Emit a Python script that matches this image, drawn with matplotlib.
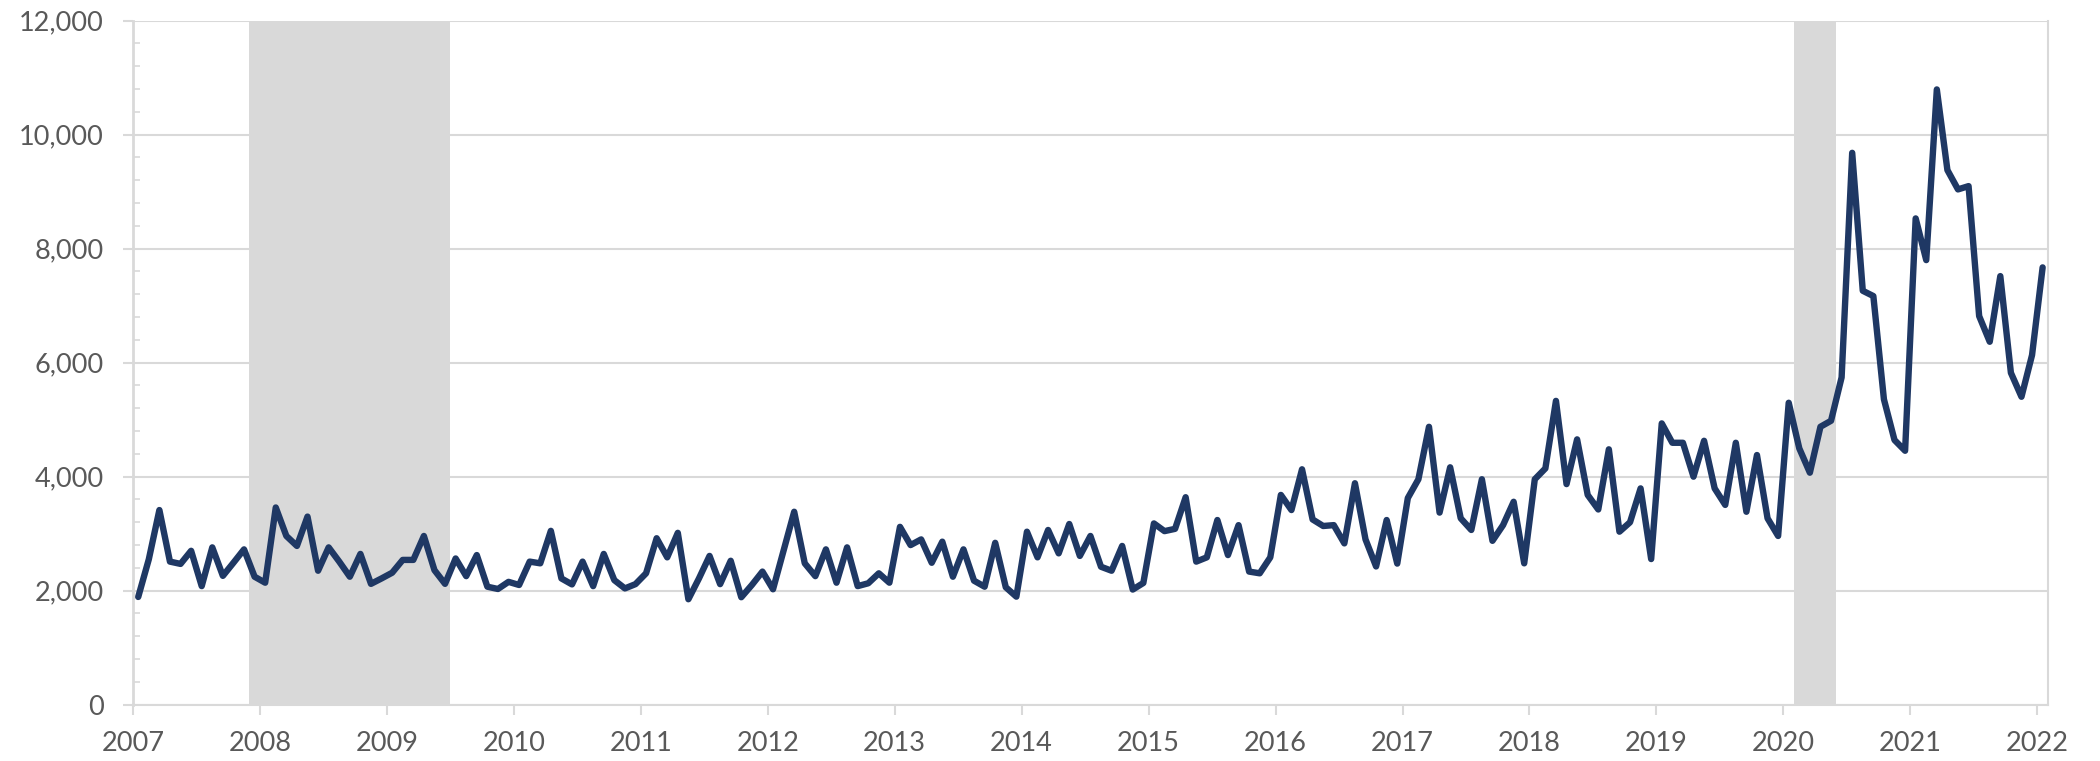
import matplotlib
matplotlib.use("Agg")
import matplotlib.pyplot as plt
from matplotlib.ticker import MultipleLocator, FuncFormatter
import numpy as np

# Monthly series, Jan 2007 .. Jan 2022
start_year = 2007
values = [
    1890, 2550, 3415, 2510, 2470, 2700, 2080, 2760, 2260, 2490, 2725, 2245,   # 2007
    2140, 3460, 2960, 2785, 3300, 2350, 2760, 2510, 2245, 2645, 2120, 2215,   # 2008
    2315, 2540, 2540, 2960, 2360, 2120, 2565, 2255, 2625, 2070, 2030, 2155,   # 2009
    2100, 2510, 2480, 3050, 2215, 2110, 2510, 2080, 2645, 2185, 2040, 2115,   # 2010
    2305, 2920, 2585, 3015, 1850, 2215, 2610, 2115, 2525, 1885, 2100, 2335,   # 2011
    2025, 2705, 3385, 2480, 2255, 2725, 2140, 2760, 2080, 2130, 2305, 2140,   # 2012
    3120, 2800, 2900, 2490, 2860, 2245, 2725, 2175, 2070, 2840, 2060, 1895,   # 2013
    3035, 2585, 3065, 2655, 3170, 2610, 2960, 2420, 2350, 2785, 2020, 2135,   # 2014
    3180, 3045, 3085, 3640, 2510, 2585, 3240, 2625, 3150, 2335, 2305, 2585,   # 2015
    3680, 3415, 4130, 3250, 3135, 3150, 2830, 3885, 2900, 2425, 3240, 2475,   # 2016
    3625, 3955, 4875, 3370, 4165, 3270, 3065, 3955, 2875, 3150, 3560, 2480,   # 2017
    3955, 4145, 5330, 3870, 4655, 3680, 3425, 4480, 3035, 3200, 3795, 2555,   # 2018
    4935, 4595, 4595, 4000, 4630, 3795, 3505, 4595, 3385, 4380, 3270, 2960,   # 2019
    5297, 4497, 4070, 4876, 4981, 5742, 9682, 7262, 7169, 5357, 4643, 4455,   # 2020
    8531, 7800, 10794, 9379, 9040, 9098, 6818, 6367, 7519, 5823, 5402, 6134,  # 2021
    7672,                                                                     # 2022
]

# Recession periods (start, end) in decimal years
recession_starts = [2007 + 11 / 12, 2020 + 1 / 12]
recession_ends = [2009 + 6 / 12, 2020 + 5 / 12]

year_ticks = list(range(2007, 2023))
y_ticks = [0, 2000, 4000, 6000, 8000, 10000, 12000]

LINE = "#1f3864"
GRID = "#d9d9d9"
TEXT = "#595959"

plt.rcParams["font.family"] = ["Lato", "DejaVu Sans"]

fig = plt.figure(figsize=(21, 7.61), dpi=100)
ax = fig.add_axes([0.0633, 0.074, 0.9119, 0.8988])

x = start_year + (np.arange(len(values)) + 0.5) / 12.0

for s, e in zip(recession_starts, recession_ends):
    ax.axvspan(s, e, color=GRID, lw=0, zorder=0)

ax.plot(x, values, color=LINE, lw=4.6, solid_joinstyle="round",
        solid_capstyle="round", zorder=3)

ax.set_xlim(2007, 2022 + 1 / 12)
ax.set_ylim(0, 12000)
ax.set_yticks(y_ticks)
ax.yaxis.set_minor_locator(MultipleLocator(400))
ax.set_xticks(year_ticks)
ax.set_xticklabels([str(y) for y in year_ticks])
ax.yaxis.set_major_formatter(FuncFormatter(lambda v, p: f"{int(v):,}"))

ax.grid(axis="y", which="major", color=GRID, lw=1.5, zorder=1)
ax.set_axisbelow(True)

ax.spines["top"].set_visible(False)
ax.spines["left"].set_color(GRID)
ax.spines["left"].set_linewidth(2.0)
ax.spines["bottom"].set_color(GRID)
ax.spines["bottom"].set_linewidth(1.5)
ax.spines["right"].set_color(GRID)
ax.spines["right"].set_linewidth(1.5)

ax.tick_params(axis="y", which="major", direction="out", length=7, width=1.5,
               color=GRID, labelsize=19.5, labelcolor=TEXT, pad=14)
ax.tick_params(axis="y", which="minor", direction="in", length=5, width=1.2,
               color=GRID)
ax.tick_params(axis="x", which="major", direction="out", length=7, width=1.5,
               color=GRID, labelsize=19.5, labelcolor=TEXT, pad=12)

fig.savefig("out.png", dpi=100)
